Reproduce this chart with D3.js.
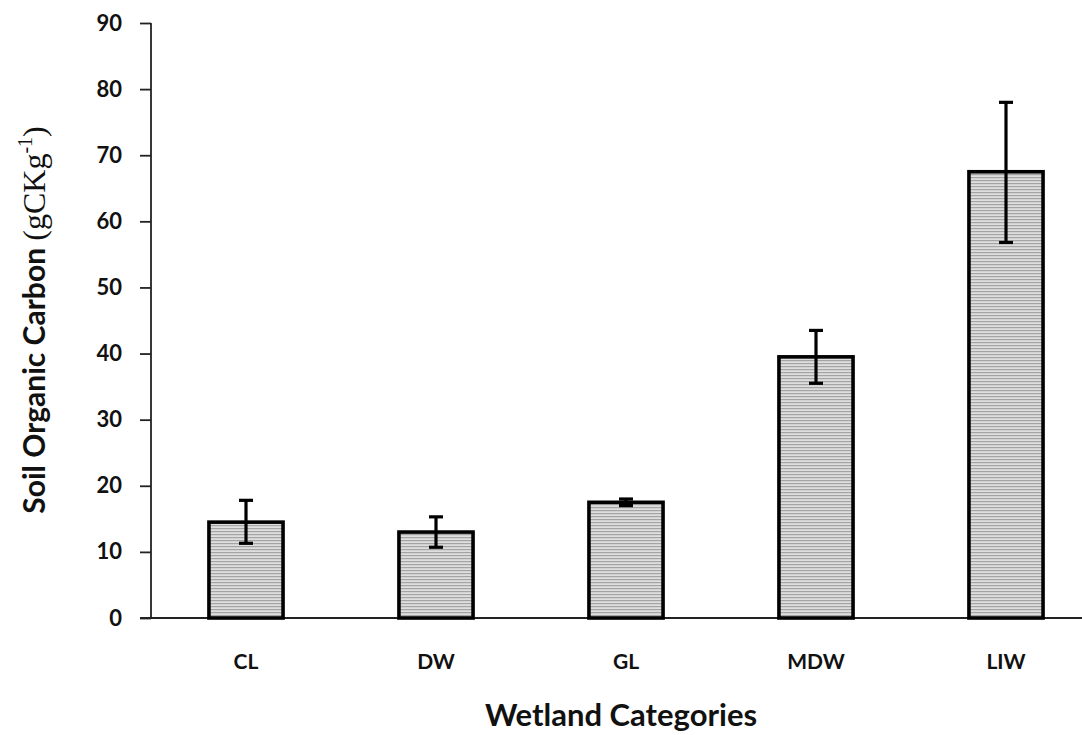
<!DOCTYPE html>
<html><head><meta charset="utf-8">
<script src="https://cdn.jsdelivr.net/npm/d3@7"></script>
<style>body{margin:0;background:#fff}svg{display:block}</style>
</head><body>
<svg id="c" width="1082" height="735"></svg>
<script>
const categories = ["CL","DW","GL","MDW","LIW"];
const values = [14.5, 13.0, 17.5, 39.5, 67.5];
const errLow = [11.3, 10.7, 17.0, 35.5, 56.8];
const errHigh = [17.8, 15.3, 18.0, 43.5, 78.0];
const yTicks = [0,10,20,30,40,50,60,70,80,90];

const svg = d3.select("#c");
const defs = svg.append("defs");
const pat = defs.append("pattern").attr("id","stripes").attr("patternUnits","userSpaceOnUse")
  .attr("width",8).attr("height",3);
pat.append("rect").attr("width",8).attr("height",3).attr("fill","#dedede");
pat.append("rect").attr("y",0).attr("width",8).attr("height",1.2).attr("fill","#a4a4a4");

const x = d3.scaleBand().domain(categories).range([151,1101]).paddingInner(0.61).paddingOuter(0.305);
const y = d3.scaleLinear().domain([0,90]).range([618,23]);
const sans = "Lato, 'Open Sans', sans-serif";

// y axis
const ya = svg.append("g").attr("transform","translate(151,0)")
  .call(d3.axisLeft(y).tickValues(yTicks).tickSize(11).tickPadding(18));
ya.select(".domain").attr("stroke","#222").attr("stroke-width",1.8).attr("d","M0,618V23");
ya.selectAll(".tick line").attr("stroke","#222").attr("stroke-width",1.8);
ya.selectAll(".tick text").attr("font-family",sans).attr("font-weight","bold")
  .attr("font-size",22).attr("fill","#111");

// x axis
const xa = svg.append("g").attr("transform","translate(0,618)")
  .call(d3.axisBottom(x).tickSize(0).tickPadding(36));
xa.select(".domain").attr("stroke","#222").attr("stroke-width",1.8).attr("d","M140,0H1082");
xa.selectAll(".tick text").attr("font-family",sans).attr("font-weight","bold")
  .attr("font-size",21).attr("fill","#111");

// bars
svg.append("g").selectAll("rect").data(categories).join("rect")
  .attr("x",d=>x(d)).attr("width",x.bandwidth())
  .attr("y",(d,i)=>y(values[i])).attr("height",(d,i)=>y(0)-y(values[i]))
  .attr("fill","url(#stripes)").attr("stroke","#000").attr("stroke-width",3.6);

// error bars
const eg = svg.append("g").attr("stroke","#000").attr("stroke-width",3.2);
categories.forEach((c,i)=>{
  const cx = x(c)+x.bandwidth()/2;
  eg.append("line").attr("x1",cx).attr("x2",cx).attr("y1",y(errLow[i])).attr("y2",y(errHigh[i]));
  eg.append("line").attr("x1",cx-7).attr("x2",cx+7).attr("y1",y(errLow[i])).attr("y2",y(errLow[i]));
  eg.append("line").attr("x1",cx-7).attr("x2",cx+7).attr("y1",y(errHigh[i])).attr("y2",y(errHigh[i]));
});

// titles
svg.append("text").attr("x",621).attr("y",726).attr("text-anchor","middle")
  .attr("font-family",sans).attr("font-weight","bold").attr("font-size",31)
  .attr("fill","#111").text("Wetland Categories");

const yt = svg.append("text").attr("transform","translate(45,320) rotate(-90)").attr("text-anchor","middle")
  .attr("font-weight","bold").attr("font-size",30).attr("fill","#111");
yt.append("tspan").attr("font-family",sans).text("Soil Organic Carbon ");
yt.append("tspan").attr("font-family","'Liberation Serif', serif").attr("font-weight","normal").attr("font-size",32).text("(gCKg");
yt.append("tspan").attr("font-family","'Liberation Serif', serif").attr("font-weight","normal").attr("font-size",20).attr("dy",-13).text("-1");
yt.append("tspan").attr("font-family","'Liberation Serif', serif").attr("font-weight","normal").attr("font-size",32).attr("dy",13).text(")");
</script>
</body></html>
